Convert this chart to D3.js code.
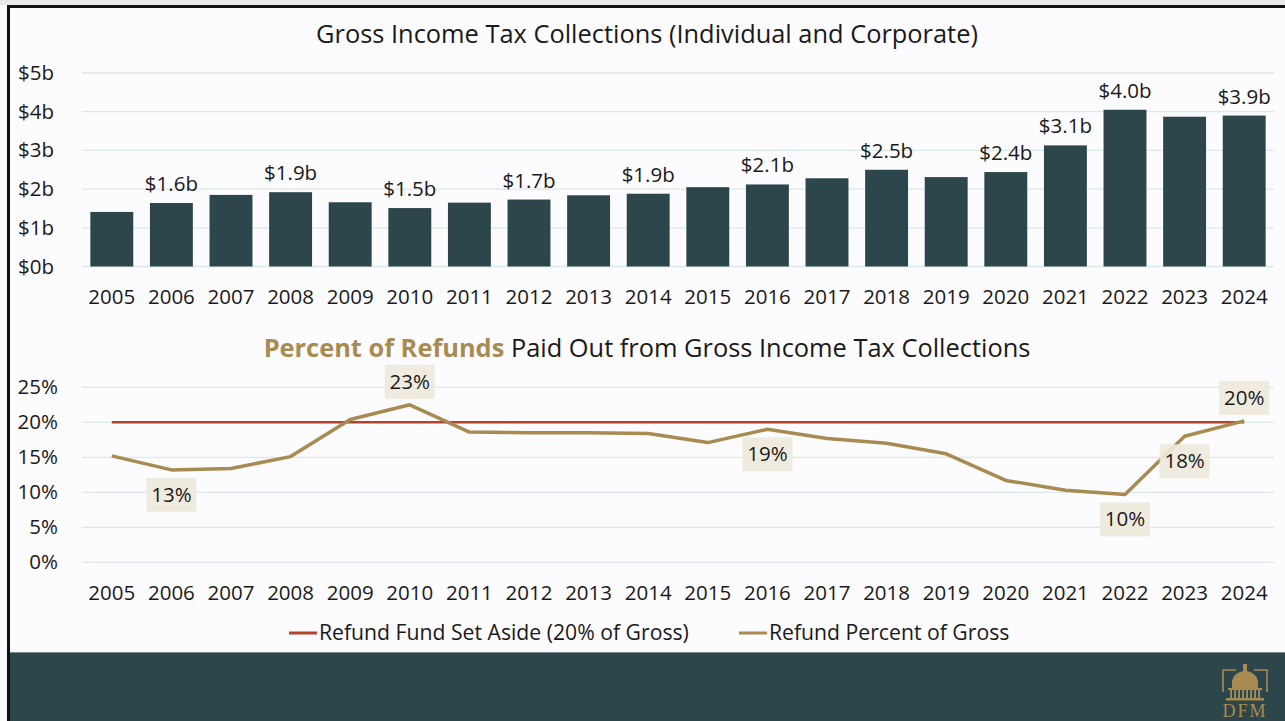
<!DOCTYPE html>
<html>
<head>
<meta charset="utf-8">
<script src="https://cdn.jsdelivr.net/npm/d3@7/dist/d3.min.js"></script>
<style>
  html, body { margin: 0; padding: 0; background: #fcfbfd; }
  svg { display: block; font-family: "Open Sans", sans-serif; }
</style>
</head>
<body>
<svg id="chart" width="1285" height="721"></svg>
<script>
// data
var years = ["2005","2006","2007","2008","2009","2010","2011","2012","2013","2014",
             "2015","2016","2017","2018","2019","2020","2021","2022","2023","2024"];
var grossBillions = [1.41, 1.64, 1.85, 1.92, 1.66, 1.51, 1.65, 1.73, 1.84, 1.88,
                     2.05, 2.12, 2.28, 2.50, 2.31, 2.44, 3.13, 4.05, 3.87, 3.90];
var refundPct = [15.2, 13.2, 13.4, 15.1, 20.4, 22.5, 18.6, 18.5, 18.5, 18.4,
                 17.1, 19.0, 17.7, 17.0, 15.5, 11.7, 10.3, 9.7, 18.0, 20.2];
var setAsidePct = 20;
var barLabelYears = ["2006","2008","2010","2012","2014","2016","2018","2020","2021","2022","2024"];
// which points of the line get a label, and on which side
var lineLabels = [
  {year: "2006", side: "below"},
  {year: "2010", side: "above"},
  {year: "2016", side: "below"},
  {year: "2022", side: "below"},
  {year: "2023", side: "below"},
  {year: "2024", side: "above"}
];
var barTicks = [0, 1, 2, 3, 4, 5];
var pctTicks = [0, 5, 10, 15, 20, 25];

var dark = "#2d464b", gold = "#a88b51", red = "#b4432c", grid = "#dce9e9", ink = "#1a1a1a";
var fs = 20.5, titleFs = 25.4;

var svg = d3.select("#chart");

// frame
svg.append("rect").attr("x", 0).attr("y", 0).attr("width", 1285).attr("height", 5).attr("fill", "#e9e9ea");
svg.append("rect").attr("x", 7).attr("y", 5).attr("width", 1278).attr("height", 3).attr("fill", "#111");
svg.append("rect").attr("x", 7).attr("y", 5).attr("width", 3).attr("height", 716).attr("fill", "#111");

var x = d3.scaleBand().domain(years).range([82, 1274]).paddingInner(0.28).paddingOuter(0.14);
function cx(d) { return x(d) + x.bandwidth() / 2; }

// ---------- top chart: bars ----------
var yBar = d3.scaleLinear().domain([0, 5]).range([266.5, 73]);

svg.append("text")
  .attr("x", 647).attr("y", 43)
  .attr("text-anchor", "middle")
  .attr("font-size", titleFs).attr("fill", ink)
  .text("Gross Income Tax Collections (Individual and Corporate)");

var barG = svg.append("g");
barG.append("g").selectAll("line").data(barTicks).enter().append("line")
  .attr("x1", 82).attr("x2", 1274)
  .attr("y1", function(d) { return yBar(d); }).attr("y2", function(d) { return yBar(d); })
  .attr("stroke", grid).attr("stroke-width", 1.3);

barG.append("g").selectAll("text").data(barTicks).enter().append("text")
  .attr("x", 54).attr("y", function(d) { return yBar(d) + 7; })
  .attr("text-anchor", "end").attr("font-size", fs).attr("fill", ink)
  .text(function(d) { return "$" + d + "b"; });

barG.append("g").selectAll("rect").data(years).enter().append("rect")
  .attr("x", function(d) { return x(d); })
  .attr("width", x.bandwidth())
  .attr("y", function(d, i) { return yBar(grossBillions[i]); })
  .attr("height", function(d, i) { return yBar(0) - yBar(grossBillions[i]); })
  .attr("fill", dark);

barG.append("g").selectAll("text").data(years.filter(function(d) { return barLabelYears.indexOf(d) >= 0; }))
  .enter().append("text")
  .attr("x", cx)
  .attr("y", function(d) { return yBar(grossBillions[years.indexOf(d)]) - 12; })
  .attr("text-anchor", "middle").attr("font-size", fs).attr("fill", ink)
  .text(function(d) { return "$" + grossBillions[years.indexOf(d)].toFixed(1) + "b"; });

barG.append("g").selectAll("text").data(years).enter().append("text")
  .attr("x", cx).attr("y", 304)
  .attr("text-anchor", "middle").attr("font-size", fs).attr("fill", ink)
  .text(function(d) { return d; });

// ---------- bottom chart: line ----------
var yPct = d3.scaleLinear().domain([0, 25]).range([562.3, 387.3]);

var t2 = svg.append("text")
  .attr("x", 647).attr("y", 357)
  .attr("text-anchor", "middle")
  .attr("font-size", titleFs).attr("fill", ink);
t2.append("tspan").attr("font-weight", "bold").attr("fill", gold).text("Percent of Refunds");
t2.append("tspan").text(" Paid Out from Gross Income Tax Collections");

var lineG = svg.append("g");
lineG.append("g").selectAll("line").data(pctTicks).enter().append("line")
  .attr("x1", 82).attr("x2", 1274)
  .attr("y1", function(d) { return yPct(d); }).attr("y2", function(d) { return yPct(d); })
  .attr("stroke", grid).attr("stroke-width", 1.3);

lineG.append("g").selectAll("text").data(pctTicks).enter().append("text")
  .attr("x", 58).attr("y", function(d) { return yPct(d) + 7; })
  .attr("text-anchor", "end").attr("font-size", fs).attr("fill", ink)
  .text(function(d) { return d + "%"; });

lineG.append("line")
  .attr("x1", cx(years[0])).attr("x2", cx(years[years.length - 1]))
  .attr("y1", yPct(setAsidePct)).attr("y2", yPct(setAsidePct))
  .attr("stroke", red).attr("stroke-width", 2.5);

var line = d3.line()
  .x(function(d) { return cx(d); })
  .y(function(d, i) { return yPct(refundPct[i]); });

lineG.append("path")
  .datum(years)
  .attr("d", line)
  .attr("fill", "none").attr("stroke", gold).attr("stroke-width", 3.5)
  .attr("stroke-linejoin", "round");

var lab = lineG.append("g").selectAll("g").data(lineLabels).enter().append("g")
  .attr("transform", function(d) {
    var v = refundPct[years.indexOf(d.year)];
    var yy = yPct(v) + (d.side === "above" ? -23 : 25);
    return "translate(" + cx(d.year) + "," + yy + ")";
  });
lab.append("rect")
  .attr("x", -25).attr("y", -17).attr("width", 50).attr("height", 34)
  .attr("fill", "#efe9dc").attr("fill-opacity", 0.92);
lab.append("text")
  .attr("y", 7).attr("text-anchor", "middle").attr("font-size", fs).attr("fill", ink)
  .text(function(d) { return Math.round(refundPct[years.indexOf(d.year)]) + "%"; });

lineG.append("g").selectAll("text").data(years).enter().append("text")
  .attr("x", cx).attr("y", 600)
  .attr("text-anchor", "middle").attr("font-size", fs).attr("fill", ink)
  .text(function(d) { return d; });

// legend
var legend = [
  {label: "Refund Fund Set Aside (20% of Gross)", color: red, x: 289},
  {label: "Refund Percent of Gross", color: gold, x: 739}
];
var lg = svg.append("g").selectAll("g").data(legend).enter().append("g")
  .attr("transform", function(d) { return "translate(" + d.x + ",633)"; });
lg.append("line").attr("x1", 0).attr("x2", 28).attr("stroke", function(d) { return d.color; }).attr("stroke-width", 3);
lg.append("text").attr("x", 30).attr("y", 7).attr("font-size", 21.2).attr("fill", ink)
  .text(function(d) { return d.label; });

// footer band
svg.append("rect").attr("x", 10).attr("y", 652).attr("width", 1275).attr("height", 69).attr("fill", dark);
svg.append("line").attr("x1", 10).attr("x2", 1285).attr("y1", 652.5).attr("y2", 652.5).attr("stroke", "#7c8a8c").attr("stroke-width", 1);

// DFM logo (simple)
var logo = svg.append("g").attr("transform", "translate(1245,668)");
logo.append("path").attr("d", "M-22,24 V2 H-9 M9,2 H22 V24").attr("fill", "none").attr("stroke", gold).attr("stroke-width", 1.6);
logo.append("path").attr("d", "M-13,20 V15 A13,12 0 0 1 13,15 V20 Z").attr("fill", gold);
logo.append("rect").attr("x", -2).attr("y", -4).attr("width", 4).attr("height", 8).attr("fill", gold);
logo.append("rect").attr("x", -17).attr("y", 20).attr("width", 34).attr("height", 2).attr("fill", gold);
logo.append("g").selectAll("rect").data(d3.range(-14, 15, 4)).enter().append("rect")
  .attr("x", function(d) { return d - 0.8; }).attr("y", 22).attr("width", 1.8).attr("height", 8).attr("fill", gold);
logo.append("rect").attr("x", -19).attr("y", 30).attr("width", 38).attr("height", 2.5).attr("fill", gold);
logo.append("text").attr("y", 49).attr("text-anchor", "middle")
  .attr("font-family", "'Liberation Serif', serif").attr("font-size", 18).attr("fill", gold)
  .attr("letter-spacing", 2).text("DFM");
</script>
</body>
</html>
